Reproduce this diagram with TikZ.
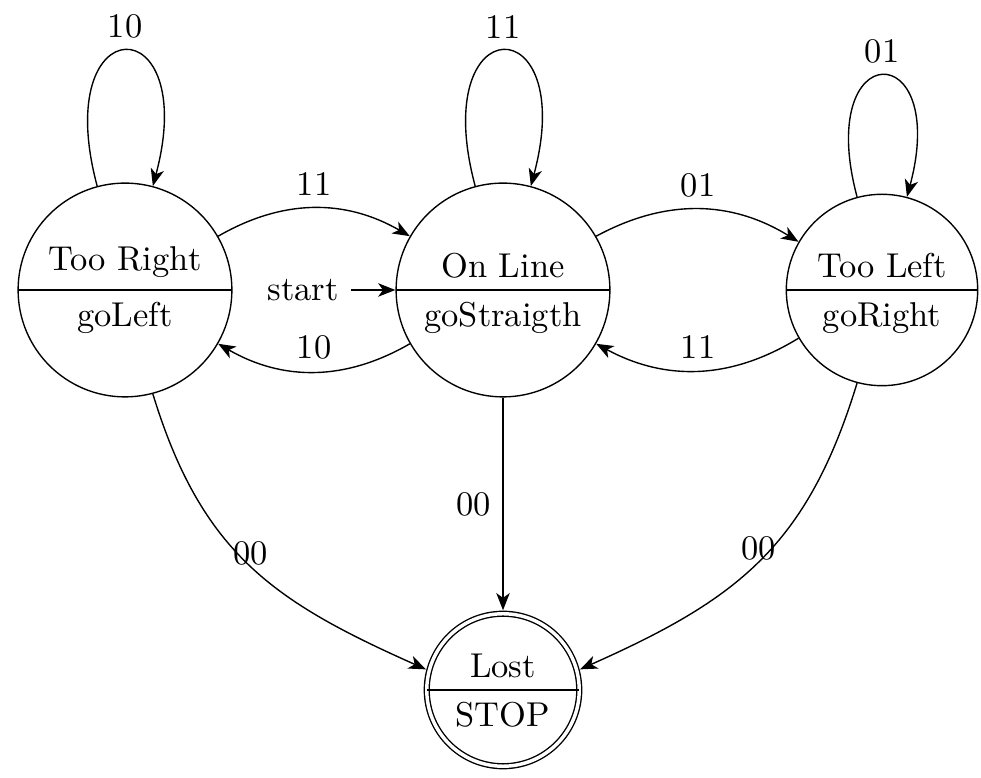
\documentclass[tikz,border=0pt]{standalone}
\usetikzlibrary{shapes.multipart, arrows.meta}
\begin{document}
\begin{tikzpicture}[x=0.29pt, y=0.29pt,
  >={Stealth[length=5pt, width=3.9pt, inset=1.4pt]},
  statenode/.style={circle split, draw, inner sep=3.33pt},
  finalstate/.style={statenode, double, double distance=1pt, outer sep=1pt},
  selfloop/.style={out=105, in=75, looseness=8.6}]
\useasboundingbox (0,0) rectangle (981,778);

% states
\node[statenode, minimum size=62pt] (TR) at (125,488) {Too Right\nodepart{lower}goLeft};
\node[statenode, minimum size=62pt] (OL) at (503,488) {On Line\nodepart{lower}goStraigth};
\node[statenode, minimum size=55.5pt] (TL) at (882,488) {Too Left\nodepart{lower}goRight};
\node[finalstate, minimum size=43.4pt] (Lost) at (503,88) {Lost\nodepart{lower}STOP};

% initial marker
\node (st) at (303,488) {start};
\draw[->] (st) -- (OL);

% self loops
\draw[->] (TR) to[selfloop] node[above] {10} (TR);
\draw[->] (OL) to[selfloop] node[above] {11} (OL);
\draw[->] (TL) to[selfloop] node[above] {01} (TL);

% transitions between neighbouring states
\draw[->] (TR) to[bend left=30] node[above] {11} (OL);
\draw[->] (OL) to[bend left=30] node[above] {10} (TR);
\draw[->] (OL) to[bend left=30] node[above] {01} (TL);
\draw[->] (TL) to[bend left=30] node[above] {11} (OL);

% transitions into the final state
\draw[->] (OL) -- node[left] {00} (Lost);
\draw[->] (TR.-75) to[out=-73, in=156, looseness=1.1]
  node[pos=0.45, anchor=west, inner sep=0pt, xshift=-1.6pt] {00} (Lost.165);
\draw[->] (TL.-105) to[out=-107, in=24, looseness=1.1]
  node[pos=0.45, anchor=east, inner sep=0pt, xshift=1.6pt] {00} (Lost.15);
\end{tikzpicture}
\end{document}
